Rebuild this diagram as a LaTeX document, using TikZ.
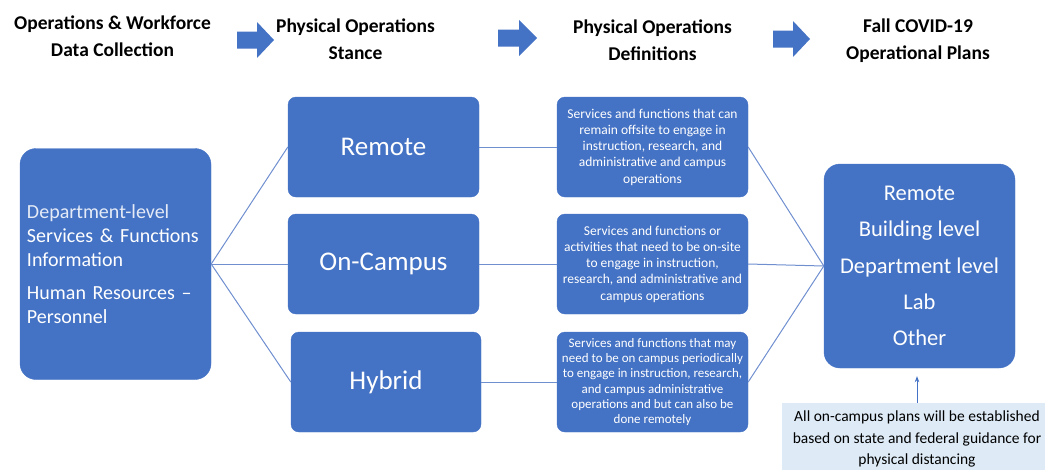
\documentclass[tikz,border=0pt]{standalone}
\usepackage{fontspec}
\setmainfont{Carlito}
\usetikzlibrary{arrows.meta}
\definecolor{boxblue}{HTML}{4472C4}
\definecolor{linkblue}{HTML}{6F8FCF}
\definecolor{notefill}{HTML}{DEEBF7}
\definecolor{lightwhite}{HTML}{E4EBF7}
\begin{document}
\begin{tikzpicture}[x=1pt,y=-1pt,
  box/.style={fill=boxblue, draw=boxblue, rounded corners=8pt, text=white, align=center, inner sep=0pt},
  defbox/.style={box, minimum width=191pt, minimum height=100pt},
  hdr/.style={font=\fontsize{19.5}{27}\selectfont\bfseries, align=center, inner sep=0pt},
  link/.style={draw=linkblue, line width=1pt},
  blockarrow/.style={fill=boxblue}]
\useasboundingbox (0,0) rectangle (1045,469);
% headers
\node[hdr] (h1) at (112.5,36) {Operations \& Workforce\\Data Collection};
\node[hdr] (h2) at (355.5,39.5) {Physical Operations\\Stance};
\node[hdr] (h3) at (652.5,40) {Physical Operations\\Definitions};
\node[hdr] (h4) at (918,41) {Fall COVID-19\\Operational Plans};
% block arrows
\fill[blockarrow] (237,31.5) -- (257,31.5) -- (257,22) -- (274,40) -- (257,58) -- (257,48.5) -- (237,48.5) -- cycle;
\fill[blockarrow] (498,29.5) -- (519,29.5) -- (519,20) -- (537,38) -- (519,56) -- (519,46.5) -- (498,46.5) -- cycle;
\fill[blockarrow] (773,30.5) -- (793,30.5) -- (793,21) -- (810,39) -- (793,57) -- (793,47.5) -- (773,47.5) -- cycle;
% source box
\node[box, rounded corners=16pt, minimum width=191pt, minimum height=231pt, text width=177pt, align=left, font=\fontsize{20}{24}\selectfont] (src) at (115.5,264)
  {{\color{lightwhite}Department-level}\\Services \& Functions\\Information\\[9pt]Human Resources –\\Personnel};
% stance boxes
\node[defbox, font=\fontsize{27}{32}\selectfont] (remote) at (383.5,147) {Remote};
\node[defbox, font=\fontsize{27}{32}\selectfont] (oncampus) at (383.5,264) {On-Campus};
\node[defbox, minimum width=190pt, font=\fontsize{27}{32}\selectfont] (hybrid) at (386,382) {Hybrid};
% definition boxes
\node[defbox, font=\fontsize{13.5}{16.2}\selectfont] (def1) at (652.5,147)
  {Services and functions that can\\remain offsite to engage in\\instruction, research, and\\administrative and campus\\operations};
\node[defbox, font=\fontsize{13.5}{16.2}\selectfont] (def2) at (652.5,264)
  {Services and functions or\\activities that need to be on-site\\to engage in instruction,\\research, and administrative and\\campus operations};
\node[defbox, font=\fontsize{13}{15.2}\selectfont] (def3) at (652.5,382)
  {Services and functions that may\\need to be on campus periodically\\to engage in instruction, research,\\and campus administrative\\operations and but can also be\\done remotely};
% plans box
\node[box, rounded corners=16pt, minimum width=191pt, minimum height=204pt, font=\fontsize{22.5}{36.3}\selectfont] (plans) at (919.5,266)
  {Remote\\Building level\\Department level\\Lab\\Other};
% note
\node[fill=notefill, minimum width=270pt, minimum height=72pt, inner sep=0pt, align=center, font=\fontsize{15.5}{21.5}\selectfont] (note) at (917,439)
  {All on-campus plans will be established\\based on state and federal guidance for\\physical distancing};
\coordinate (tip) at ([yshift=-8pt]plans.south);
\draw[draw=boxblue, line width=0.8pt, -{Stealth[length=6pt,width=4.5pt]}] (note.north) -- (note.north |- tip);
% links
\draw[link] (src.east) -- (remote.west);
\draw[link] (src.east) -- (oncampus.west);
\draw[link] (src.east) -- (hybrid.west);
\draw[link] (remote.east) -- (def1.west);
\draw[link] (oncampus.east) -- (def2.west);
\draw[link] (hybrid.east) -- (def3.west);
\draw[link] (def1.east) -- (plans.west);
\draw[link] (def2.east) -- (plans.west);
\draw[link] (def3.east) -- (plans.west);
\end{tikzpicture}
\end{document}
